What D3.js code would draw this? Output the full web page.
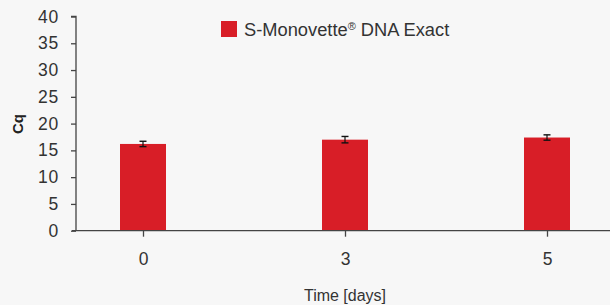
<!DOCTYPE html>
<html lang="en">
<head>
<meta charset="utf-8">
<title>Cq over time</title>
<style>
body { margin: 0; background: #f7f7f7; font-family: "Liberation Sans", Arial, sans-serif; }
svg { display: block; }
.axis path, .axis line { stroke: #444; stroke-width: 1.3; }
.axis text { fill: #333; font-family: "Liberation Sans", Arial, sans-serif; }
</style>
<script src="https://d3js.org/d3.v7.min.js"></script>
</head>
<body>
<div id="chart"></div>
<script>
const width = 610;
const height = 305;

// data
const days = ["0", "3", "5"];
const cq = [16.2, 17.0, 17.4];
const cqErr = [0.5, 0.6, 0.5];
const yTicks = [0, 5, 10, 15, 20, 25, 30, 35, 40];
const seriesName = "S-Monovette";

const red = "#d81e27";

const svg = d3.select("#chart").append("svg")
    .attr("width", width)
    .attr("height", height);

svg.append("rect").attr("width", width).attr("height", height).attr("fill", "#f7f7f7");

const y = d3.scaleLinear().domain([0, 40]).range([230.7, 16.5]);
const x = d3.scalePoint().domain(days).range([143, 547]);
const barW = 46;

// y axis
const yAxis = svg.append("g")
    .attr("class", "axis")
    .attr("transform", "translate(76,0)")
    .call(d3.axisLeft(y).tickValues(yTicks).tickSize(5).tickPadding(12));
yAxis.select(".domain").attr("d", "M-5," + y(40) + "H0V" + y(0));
yAxis.selectAll("text").style("font-size", "17.5px").style("letter-spacing", "0.8px");

// bars
svg.selectAll(".bar")
    .data(days)
    .enter().append("rect")
    .attr("class", "bar")
    .attr("x", (d) => x(d) - barW / 2)
    .attr("width", barW)
    .attr("y", (d, i) => y(cq[i]))
    .attr("height", (d, i) => y(0) - y(cq[i]))
    .attr("fill", red);

// x axis (drawn over the bar bottoms)
const xAxis = svg.append("g")
    .attr("class", "axis")
    .attr("transform", "translate(0," + y(0) + ")")
    .call(d3.axisBottom(x).tickSize(6).tickPadding(16));
xAxis.select(".domain").attr("d", "M72,0H" + width);
xAxis.selectAll("text").style("font-size", "17.5px");

// error bars
const err = svg.append("g");
days.forEach(function (d, i) {
    const cx = x(d);
    const top = y(cq[i] + cqErr[i]);
    const bot = y(cq[i] - cqErr[i]);
    err.append("line").attr("x1", cx).attr("x2", cx).attr("y1", top).attr("y2", bot)
        .attr("stroke", "#111").attr("stroke-width", 1.2);
    err.append("line").attr("x1", cx - 3.5).attr("x2", cx + 3.5).attr("y1", top).attr("y2", top)
        .attr("stroke", "#111").attr("stroke-width", 1.4);
    err.append("line").attr("x1", cx - 3.5).attr("x2", cx + 3.5).attr("y1", bot).attr("y2", bot)
        .attr("stroke", "#111").attr("stroke-width", 1.4);
});

// axis titles
svg.append("text")
    .attr("transform", "translate(23,124) rotate(-90)")
    .attr("text-anchor", "middle")
    .style("font-size", "15px")
    .style("font-weight", "bold")
    .attr("fill", "#222")
    .text("Cq");

svg.append("text")
    .attr("x", 345)
    .attr("y", 301)
    .attr("text-anchor", "middle")
    .style("font-size", "16px")
    .attr("fill", "#333")
    .text("Time [days]");

// legend
svg.append("rect")
    .attr("x", 221).attr("y", 21)
    .attr("width", 16).attr("height", 16)
    .attr("fill", red);

const leg = svg.append("text")
    .attr("x", 244)
    .attr("y", 36)
    .style("font-size", "18.3px")
    .attr("fill", "#333");
leg.append("tspan").text(seriesName);
leg.append("tspan").attr("dy", -6).style("font-size", "11px").text("®");
leg.append("tspan").attr("dy", 6).text(" DNA Exact");
</script>
</body>
</html>
